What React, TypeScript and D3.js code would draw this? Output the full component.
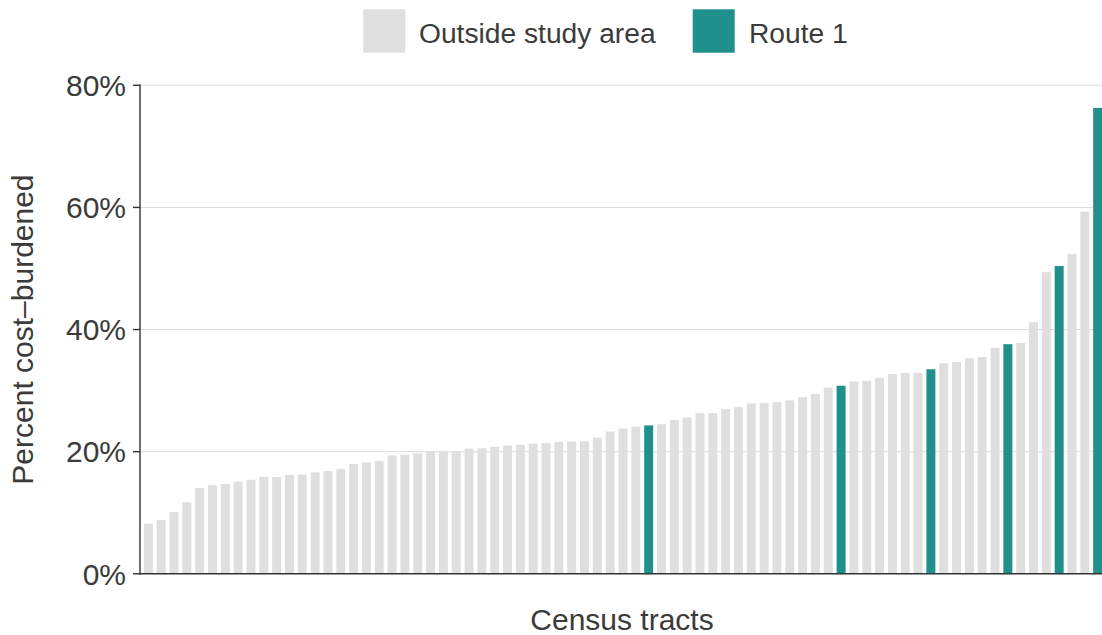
import React from "react";
import * as d3 from "d3";

const tractValues: number[] = [
  8.2, 8.8, 10.1, 11.7, 14.05, 14.5, 14.7, 15.1, 15.4, 15.85,
  15.85, 16.2, 16.25, 16.6, 16.85, 17.2, 18.0, 18.25, 18.5, 19.4,
  19.5, 19.7, 20.0, 20.0, 20.1, 20.5, 20.55, 20.8, 21.0, 21.1,
  21.3, 21.4, 21.6, 21.65, 21.7, 22.3, 23.3, 23.8, 24.1, 24.3,
  24.5, 25.2, 25.6, 26.3, 26.3, 27.0, 27.3, 27.9, 27.95, 28.1,
  28.4, 28.95, 29.45, 30.5, 30.8, 31.5, 31.6, 32.1, 32.7, 32.9,
  32.9, 33.5, 34.5, 34.7, 35.3, 35.5, 37.0, 37.6, 37.8, 41.2,
  49.4, 50.4, 52.4, 59.3, 76.3,
];

// positions (in sorted order) of tracts on Route 1
const route1Tracts: number[] = [39, 54, 61, 67, 71, 74];

const groups: string[] = ["Outside study area", "Route 1"];
const groupColors: string[] = ["#dfdfdf", "#21908c"];
const yTicks: number[] = [0, 20, 40, 60, 80];

const W = 1102;
const H = 635;
const textColor = "#3b3b3b";
const font = "'Liberation Sans', Arial, Helvetica, sans-serif";

export default function App() {
  const data = tractValues.map((v, i) => ({
    id: `tract-${i}`,
    value: v,
    group: route1Tracts.includes(i) ? groups[1] : groups[0],
  }));

  const left = 140;
  const top = 85.3;
  const bottom = 573.8;

  const x = d3
    .scaleBand<string>()
    .domain(data.map((d) => d.id))
    .range([left, 1106])
    .paddingInner(0.3)
    .paddingOuter(0.3);

  const y = d3.scaleLinear().domain([0, 80]).range([bottom, top]);
  const color = d3.scaleOrdinal<string, string>().domain(groups).range(groupColors);
  const fmt = (v: number) => `${v}%`;

  return (
    <svg
      width={W}
      height={H}
      style={{ position: "absolute", left: 0, top: 0, background: "#fff" }}
      fontFamily={font}
    >
      {/* gridlines */}
      {yTicks.slice(1).map((t) => (
        <line key={`g${t}`} x1={left} x2={W} y1={y(t)} y2={y(t)} stroke="#dadada" strokeWidth={1.1} />
      ))}
      {/* bars */}
      {data.map((d) => (
        <rect
          key={d.id}
          x={x(d.id)}
          y={y(d.value)}
          width={x.bandwidth()}
          height={y(0) - y(d.value)}
          fill={color(d.group)}
        />
      ))}
      {/* y axis */}
      <line x1={left} x2={left} y1={top - 1} y2={bottom + 0.7} stroke="#333" strokeWidth={1.4} />
      {yTicks.map((t) => (
        <g key={`t${t}`}>
          <line x1={left - 7} x2={left} y1={y(t)} y2={y(t)} stroke="#333" strokeWidth={1.4} />
          <text
            x={left - 14}
            y={y(t)}
            dy="0.36em"
            textAnchor="end"
            fontSize={30}
            fill={textColor}
          >
            {fmt(t)}
          </text>
        </g>
      ))}
      {/* x axis */}
      <line x1={left - 0.7} x2={W} y1={bottom} y2={bottom} stroke="#333" strokeWidth={1.4} />
      <text x={622} y={630} textAnchor="middle" fontSize={30} fill={textColor}>
        Census tracts
      </text>
      <text
        transform={`translate(33, ${(top + bottom) / 2}) rotate(-90)`}
        textAnchor="middle"
        fontSize={30}
        fill={textColor}
      >
        Percent cost–burdened
      </text>
      {/* legend */}
      <g>
        <rect x={363.3} y={9.3} width={42} height={43.4} fill={groupColors[0]} />
        <text x={419} y={42.7} fontSize={28.2} fill={textColor}>
          {groups[0]}
        </text>
        <rect x={692.7} y={9.3} width={42} height={43.4} fill={groupColors[1]} />
        <text x={749} y={42.7} fontSize={28.2} fill={textColor}>
          {groups[1]}
        </text>
      </g>
    </svg>
  );
}
